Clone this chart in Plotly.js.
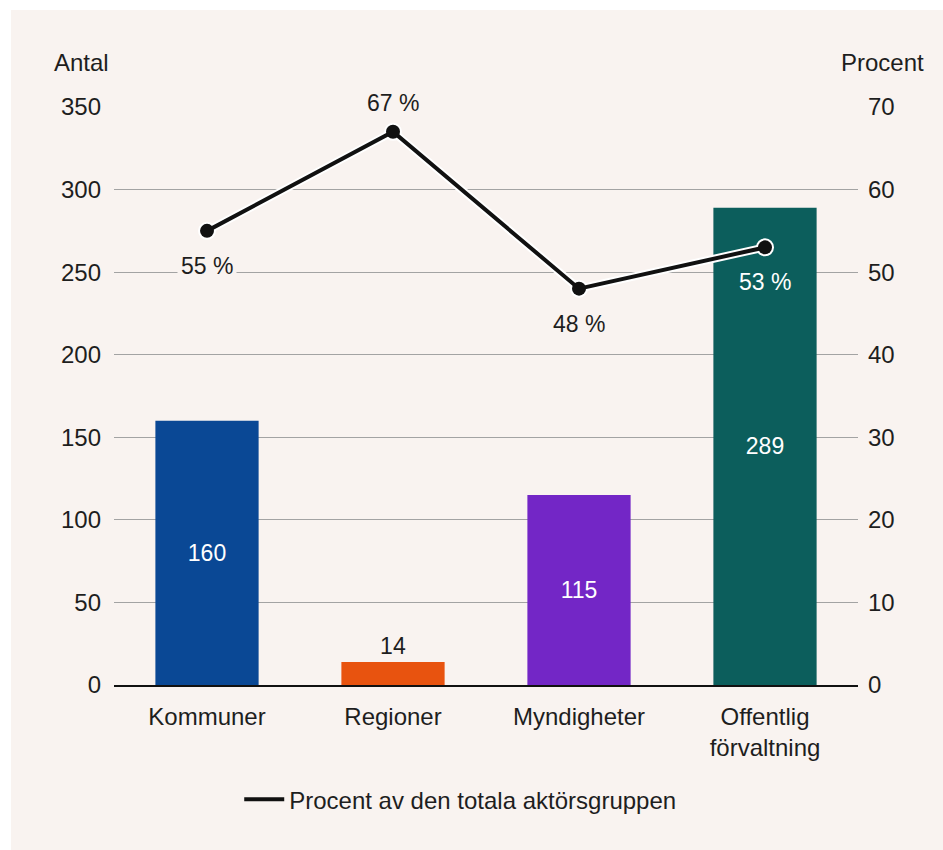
<!DOCTYPE html>
<html>
<head>
<meta charset="utf-8">
<script src="https://cdn.plot.ly/plotly-3.0.1.min.js"></script>
<style>
  html, body { margin: 0; padding: 0; background: #ffffff; }
  #chart { position: absolute; left: 11px; top: 10px; width: 932px; height: 840px; }
</style>
</head>
<body>
<div id="chart"></div>
<script>
// Aktörsgrupper: antal (vänster axel) och procent av hela gruppen (höger axel)
const categories = ['Kommuner', 'Regioner', 'Myndigheter', 'Offentlig<br>förvaltning'];
const antal = [160, 14, 115, 289];
const procent = [55, 67, 48, 53];
const barColors = ['#0a4895', '#e8530f', '#7326c6', '#0c5e5c'];
const barTextPos = ['inside', 'outside', 'inside', 'inside'];
const pctLabelBelow = [true, false, true, true];
const pctLabelOnBar = [false, false, false, true];
const legendLabel = 'Procent av den totala aktörsgruppen';

const bg = '#f9f3f0';
const ink = '#1e1e1e';
const fs = 24;
const fontFamily = '"Liberation Sans", Arial, Helvetica, sans-serif';

const bars = {
  type: 'bar',
  x: categories,
  y: antal,
  width: 0.555,
  marker: { color: barColors },
  text: antal.map(String),
  textposition: barTextPos,
  insidetextanchor: 'middle',
  insidetextfont: { color: '#ffffff', size: fs - 1, family: fontFamily },
  outsidetextfont: { color: ink, size: fs - 1, family: fontFamily },
  constraintext: 'none',
  cliponaxis: false,
  hoverinfo: 'skip',
  showlegend: false
};

// white halo under the line so it stands out on top of the bars
const lineHalo = {
  type: 'scatter',
  mode: 'lines+markers',
  x: categories,
  y: procent,
  yaxis: 'y2',
  line: { color: '#ffffff', width: 8 },
  marker: { color: '#ffffff', size: 18 },
  hoverinfo: 'skip',
  showlegend: false,
  cliponaxis: false
};

const line = {
  type: 'scatter',
  mode: 'lines',
  name: legendLabel,
  x: categories,
  y: procent,
  yaxis: 'y2',
  line: { color: '#111111', width: 4 },
  cliponaxis: false
};

const points = {
  type: 'scatter',
  mode: 'markers',
  x: categories,
  y: procent,
  yaxis: 'y2',
  marker: { color: '#111111', size: 14 },
  showlegend: false,
  cliponaxis: false
};

const pctAnnotations = procent.map((p, i) => ({
  x: categories[i],
  y: p,
  xref: 'x',
  yref: 'y2',
  text: p + ' %',
  showarrow: false,
  yshift: pctLabelBelow[i] ? -35 : 29,
  font: { size: fs - 1, family: fontFamily, color: pctLabelOnBar[i] ? '#ffffff' : ink },
  bgcolor: pctLabelOnBar[i] ? 'rgba(0,0,0,0)' : bg,
  borderpad: 3
}));

const layout = {
  width: 932,
  height: 840,
  margin: { l: 103, r: 85, t: 97, b: 165 },
  paper_bgcolor: bg,
  plot_bgcolor: bg,
  font: { family: fontFamily, size: fs, color: ink },
  xaxis: {
    type: 'category',
    range: [-0.5, 3.5],
    showgrid: false,
    showline: true,
    linecolor: '#111111',
    linewidth: 2,
    ticks: '',
    ticklabelstandoff: 9,
    tickfont: { size: fs, color: ink },
    fixedrange: true
  },
  yaxis: {
    range: [0, 350],
    dtick: 50,
    showgrid: true,
    gridcolor: '#a3a3a3',
    gridwidth: 1,
    zeroline: false,
    ticks: '',
    ticklabelstandoff: 12,
    tickfont: { size: fs, color: ink },
    fixedrange: true
  },
  yaxis2: {
    overlaying: 'y',
    side: 'right',
    range: [0, 70],
    dtick: 10,
    showgrid: false,
    zeroline: false,
    ticks: '',
    ticklabelstandoff: 9,
    tickfont: { size: fs, color: ink },
    fixedrange: true
  },
  showlegend: true,
  legend: {
    orientation: 'h',
    xref: 'container',
    yref: 'container',
    x: 0.482,
    xanchor: 'center',
    y: 0.06,
    yanchor: 'middle',
    bgcolor: 'rgba(0,0,0,0)',
    font: { size: fs, color: ink },
    itemwidth: 40
  },
  annotations: [
    {
      text: 'Antal', xref: 'paper', yref: 'paper', x: 0, y: 1,
      xanchor: 'right', yanchor: 'middle', xshift: -3, yshift: 45,
      showarrow: false, font: { size: fs, color: ink }
    },
    {
      text: 'Procent', xref: 'paper', yref: 'paper', x: 1, y: 1,
      xanchor: 'center', yanchor: 'middle', xshift: 24, yshift: 45,
      showarrow: false, font: { size: fs, color: ink }
    }
  ].concat(pctAnnotations)
};

Plotly.newPlot('chart', [bars, lineHalo, line, points], layout, { displayModeBar: false, staticPlot: true });
</script>
</body>
</html>
